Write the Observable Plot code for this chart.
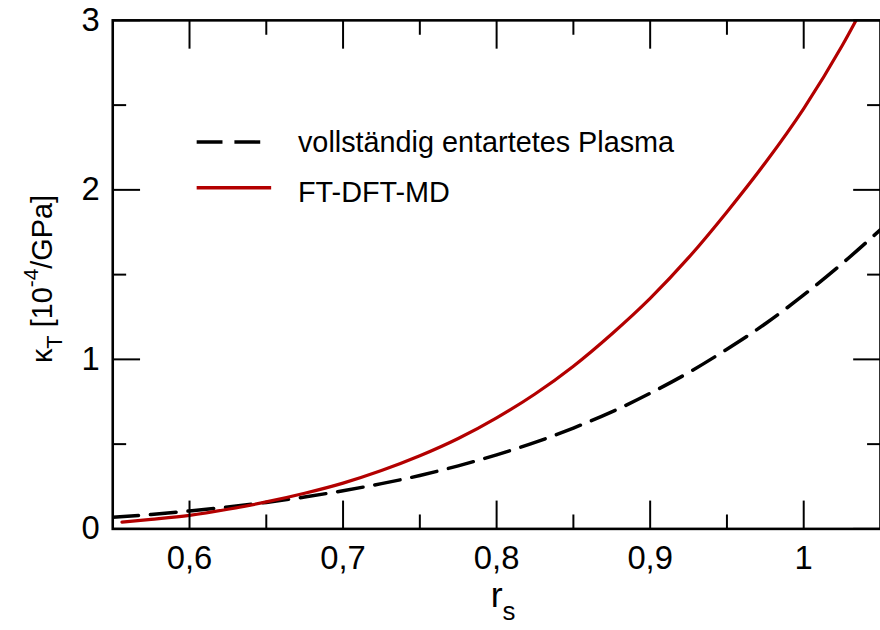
<!DOCTYPE html>
<html>
<head>
<meta charset="utf-8">
<script src="https://cdn.jsdelivr.net/npm/d3@7"></script>
<script src="https://cdn.jsdelivr.net/npm/@observablehq/plot@0.6"></script>
<style>
  html, body { margin: 0; padding: 0; background: #fff; }
  #wrap { width: 880px; height: 630px; overflow: hidden; position: relative; }
</style>
</head>
<body>
<div id="wrap"></div>
<script>
// ---- data ----
const rsDeg = [0.55, 0.575, 0.60, 0.625, 0.65, 0.675, 0.70, 0.725, 0.75, 0.775, 0.80, 0.825, 0.85, 0.875, 0.90, 0.925, 0.95, 0.975, 1.00, 1.025, 1.05];
const kappaDeg = [0.068, 0.085, 0.106, 0.129, 0.156, 0.188, 0.225, 0.267, 0.315, 0.372, 0.437, 0.51, 0.595, 0.69, 0.80, 0.922, 1.06, 1.21, 1.38, 1.565, 1.765];

const rsFT = [0.556, 0.575, 0.60, 0.625, 0.65, 0.675, 0.70, 0.725, 0.75, 0.775, 0.80, 0.825, 0.85, 0.875, 0.90, 0.925, 0.95, 0.975, 1.00, 1.025, 1.04];
const kappaFT = [0.04, 0.056, 0.08, 0.116, 0.159, 0.21, 0.27, 0.344, 0.431, 0.533, 0.655, 0.796, 0.96, 1.15, 1.36, 1.60, 1.87, 2.16, 2.48, 2.85, 3.10];

const seriesNames = ["vollständig entartetes Plasma", "FT-DFT-MD"];
const xMajor = [0.6, 0.7, 0.8, 0.9, 1.0];
const xMinor = [0.65, 0.75, 0.85, 0.95];
const yMajor = [0, 1, 2, 3];
const yMinor = [0.5, 1.5, 2.5];
const xLabels = ["0,6", "0,7", "0,8", "0,9", "1"];
const yLabels = ["0", "1", "2", "3"];

const deg = rsDeg.map((x, i) => ({x, y: kappaDeg[i]}));
const ft = rsFT.map((x, i) => ({x, y: kappaFT[i]}));

const RED = "#b30000";
const FONT = "'Liberation Sans', Arial, Helvetica, sans-serif";
const MAJ = 28, MIN = 14;

const chart = Plot.plot({
  width: 886,
  height: 630,
  marginLeft: 113,
  marginRight: 0,
  marginTop: 20,
  marginBottom: 98,
  style: {fontFamily: FONT, background: "#fff", color: "#000", overflow: "visible"},
  x: {domain: [0.55, 1.05], label: null},
  y: {domain: [0, 3], label: null},
  marks: [
    Plot.line(deg, {x: "x", y: "y", stroke: "#000", strokeWidth: 3.5, strokeDasharray: "26,12", curve: "monotone-x", clip: true}),
    Plot.line(ft, {x: "x", y: "y", stroke: RED, strokeWidth: 3.2, curve: "monotone-x", clip: true}),
    // inward ticks, all four sides
    Plot.axisX(xMajor, {anchor: "bottom", tickSize: MAJ, dy: -MAJ, strokeWidth: 2, tickFormat: () => "", label: null}),
    Plot.axisX(xMinor, {anchor: "bottom", tickSize: MIN, dy: -MIN, strokeWidth: 2, tickFormat: () => "", label: null}),
    Plot.axisX(xMajor, {anchor: "top", tickSize: MAJ, dy: MAJ, strokeWidth: 2, tickFormat: () => "", label: null}),
    Plot.axisX(xMinor, {anchor: "top", tickSize: MIN, dy: MIN, strokeWidth: 2, tickFormat: () => "", label: null}),
    Plot.axisY(yMajor, {anchor: "left", tickSize: -MAJ, strokeWidth: 2, tickFormat: () => "", label: null}),
    Plot.axisY(yMinor, {anchor: "left", tickSize: -MIN, strokeWidth: 2, tickFormat: () => "", label: null}),
    Plot.axisY(yMajor, {anchor: "right", tickSize: -MAJ, strokeWidth: 2, tickFormat: () => "", label: null}),
    Plot.axisY(yMinor, {anchor: "right", tickSize: -MIN, strokeWidth: 2, tickFormat: () => "", label: null}),
    // tick labels
    Plot.axisX(xMajor, {anchor: "bottom", tickSize: 0, tickPadding: 17, fontSize: 33, tickFormat: (d) => xLabels[xMajor.indexOf(d)], label: null}),
    Plot.axisY(yMajor, {anchor: "left", tickSize: 0, tickPadding: 13, fontSize: 33, tickFormat: (d) => yLabels[yMajor.indexOf(d)], label: null}),
    Plot.frame({stroke: "#000", strokeWidth: 2.6})
  ]
});

const svg = d3.select(chart);

// legend
const lg = svg.append("g").attr("font-family", FONT).attr("font-size", 29).attr("text-anchor", "start");
lg.append("line").attr("x1", 198).attr("x2", 262).attr("y1", 143).attr("y2", 143)
  .attr("stroke", "#000").attr("stroke-width", 3.5).attr("stroke-dasharray", "26,12");
lg.append("text").attr("x", 300).attr("y", 153).attr("text-anchor", "start").text(seriesNames[0]);
lg.append("line").attr("x1", 198).attr("x2", 273).attr("y1", 189).attr("y2", 189)
  .attr("stroke", RED).attr("stroke-width", 3.5);
lg.append("text").attr("x", 300).attr("y", 203).attr("text-anchor", "start").text(seriesNames[1]);

// y axis label: κ_T [10^-4/GPa]
const yl = svg.append("text").attr("font-family", FONT).attr("font-size", 29)
  .attr("text-anchor", "middle").attr("transform", "translate(52,281) rotate(-90)");
yl.append("tspan").text("κ");
yl.append("tspan").attr("font-size", 22).attr("dy", 10).text("T");
yl.append("tspan").attr("dy", -10).text(" [10");
yl.append("tspan").attr("font-size", 21).attr("dy", -14).text("-4");
yl.append("tspan").attr("dy", 14).text("/GPa]");

// x axis label: r_s
const xl = svg.append("text").attr("font-family", FONT).attr("font-size", 36)
  .attr("text-anchor", "start").attr("x", 494).attr("y", 611);
xl.append("tspan").text("r");
xl.append("tspan").attr("font-size", 26).attr("dy", 13).text("s");

document.getElementById("wrap").appendChild(chart);
</script>
</body>
</html>
